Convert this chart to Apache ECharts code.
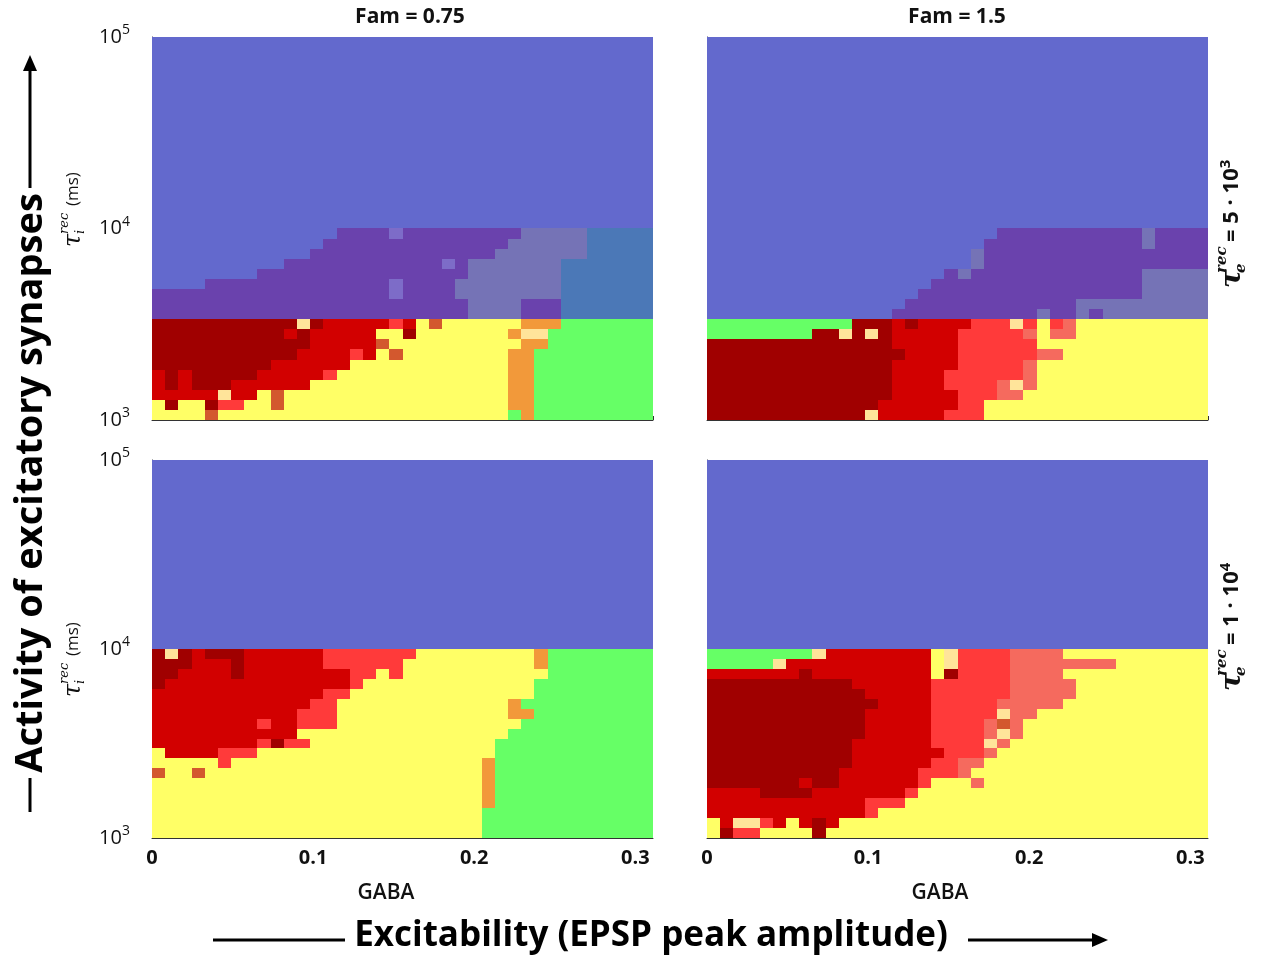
<!DOCTYPE html>
<html>
<head>
<meta charset="utf-8">
<script src="https://cdn.jsdelivr.net/npm/echarts@6/dist/echarts.min.js"></script>
<style>
  html, body { margin: 0; background: #fff; }
  #chart { width: 1261px; height: 960px; }
</style>
</head>
<body>
<div id="chart"></div>
<script>
// simulation grid: 38 GABA steps x 38 tau_i^rec steps (log spaced)
const nGaba = 38;
const gabaMax = 0.311;
const tauMin = 1e3;
const tauMax = 1e5;
const gabaTicks = [0, 0.1, 0.2, 0.3];
const tauTicks = [1e3, 1e4, 1e5];
const famTitles = ['Fam = 0.75', 'Fam = 1.5'];
const tauETitles = [['5', '3'], ['1', '4']];

// regime -> colour
const regimeColors = {
  B: '#6369cd', P: '#6a42ad', Q: '#7d6cc8', V: '#7573b6', S: '#4b78b7',
  D: '#a00000', R: '#d20000', L: '#ff3a3a', M: '#f56a5e',
  Y: '#ffff66', W: '#ffe49a', O: '#f2993a', T: '#d3582e', G: '#66ff66'
};

// rows from top (tau = 1e5) to bottom (tau = 1e3), run-length coded: <regime><count>
const cellsFam075TauE5e3 = [
  'B38', 'B38', 'B38', 'B38', 'B38', 'B38', 'B38', 'B38', 'B38', 'B38',
  'B38', 'B38', 'B38', 'B38', 'B38', 'B38', 'B38', 'B38', 'B38',
  'B14 P4 Q1 P9 V5 S5',
  'B13 P14 V6 S5',
  'B12 P14 V7 S5',
  'B10 P12 Q1 P1 V7 S7',
  'B8 P16 V7 S7',
  'B4 P14 Q1 P4 V8 S7',
  'P18 Q1 P4 V8 S7',
  'P24 V4 P3 S7',
  'P24 V4 P3 S7',
  'D11 W1 D1 R5 L1 R1 Y1 T1 Y6 O3 G7',
  'D10 R1 D1 R5 Y2 D1 Y7 O1 W2 G8',
  'D12 R5 T1 Y10 O2 G8',
  'D11 R4 L1 R1 Y1 T1 Y8 O2 G9',
  'D9 R6 Y12 O2 G9',
  'R1 D1 R1 D5 R5 L1 Y13 O2 G9',
  'R1 D1 R1 D3 R6 Y15 O2 G9',
  'R5 W1 R2 Y1 T1 Y17 O2 G9',
  'Y1 D1 Y2 D1 L2 Y2 T1 Y17 O2 G9',
  'Y4 T1 Y22 G1 O1 G9'
];

const cellsFam15TauE5e3 = [
  'B38', 'B38', 'B38', 'B38', 'B38', 'B38', 'B38', 'B38', 'B38', 'B38',
  'B38', 'B38', 'B38', 'B38', 'B38', 'B38', 'B38', 'B38', 'B38',
  'B22 P11 V1 P4',
  'B21 P12 V1 P4',
  'B20 V1 P17',
  'B20 V1 P17',
  'B18 P1 V1 P13 V5',
  'B17 P16 V5',
  'B16 P17 V5',
  'B15 P13 V10',
  'B14 P11 V1 P2 V1 P1 V8',
  'G11 D3 R1 D1 R4 L3 W1 L1 Y1 L1 M1 Y10',
  'G8 D2 W1 D1 W1 D1 R5 L5 M1 Y1 M2 Y10',
  'D14 R5 L6 Y13',
  'D15 R4 L6 M2 Y11',
  'D14 R5 L5 M1 Y13',
  'D14 R4 L6 M1 Y13',
  'D14 R4 L4 M1 W1 M1 Y13',
  'D14 R5 L3 M2 Y14',
  'D13 R6 L2 Y17',
  'D12 W1 R5 L3 Y17'
];

const cellsFam075TauE1e4 = [
  'B38', 'B38', 'B38', 'B38', 'B38', 'B38', 'B38', 'B38', 'B38', 'B38',
  'B38', 'B38', 'B38', 'B38', 'B38', 'B38', 'B38', 'B38', 'B38',
  'D1 W1 D1 R1 D3 R6 L7 Y9 O1 G8',
  'D3 R3 D1 R6 L6 Y10 O1 G8',
  'D2 R4 D1 R8 L2 Y1 L1 Y11 G8',
  'D1 R14 L1 Y13 G9',
  'R13 L2 Y14 G9',
  'R12 L2 Y13 O1 G10',
  'R11 L3 Y13 O2 G9',
  'R8 L1 R2 L3 Y14 G10',
  'R11 Y16 G11',
  'R8 L1 D1 L2 Y14 G12',
  'Y1 R4 L3 Y18 G12',
  'Y5 L1 Y19 O1 G12',
  'T1 Y2 T1 Y21 O1 G12',
  'Y25 O1 G12',
  'Y25 O1 G12',
  'Y25 O1 G12',
  'Y25 G13',
  'Y25 G13',
  'Y25 G13'
];

const cellsFam15TauE1e4 = [
  'B38', 'B38', 'B38', 'B38', 'B38', 'B38', 'B38', 'B38', 'B38', 'B38',
  'B38', 'B38', 'B38', 'B38', 'B38', 'B38', 'B38', 'B38', 'B38',
  'G8 W1 R8 Y1 W1 L4 M4 Y11',
  'G5 W1 R11 Y1 W1 L4 M8 Y7',
  'R7 D1 R9 Y1 D1 L4 M4 Y11',
  'D11 R6 L6 M5 Y10',
  'D12 R5 L6 M5 Y10',
  'D13 R4 L5 M5 Y11',
  'D12 R5 L5 W1 M2 Y13',
  'D12 R5 L4 M1 T1 M1 Y14',
  'D12 R5 L4 M1 W1 M1 Y14',
  'D11 R6 L4 W1 M1 Y15',
  'D11 R7 L3 M1 Y16',
  'D11 R6 L2 M2 Y17',
  'D10 R6 L3 M1 Y18',
  'D7 R1 D2 R6 L1 Y3 M1 Y17',
  'R4 D4 R7 L1 Y22',
  'R12 L3 Y23',
  'R12 L1 Y25',
  'Y1 R1 W2 L1 R1 Y1 R1 D1 R1 Y28',
  'Y1 D1 L2 Y4 D1 Y29'
];

const panels = [
  { rows: cellsFam075TauE5e3, left: 152, top: 37, height: 383, xLabels: false, yLabels: true },
  { rows: cellsFam15TauE5e3, left: 707, top: 37, height: 383, xLabels: false, yLabels: false },
  { rows: cellsFam075TauE1e4, left: 152, top: 460, height: 378, xLabels: true, yLabels: true },
  { rows: cellsFam15TauE1e4, left: 707, top: 460, height: 378, xLabels: true, yLabels: false }
];

// turn run-length rows into rectangles in data space
function decodeRows(rows) {
  const nTau = rows.length;
  const logMin = Math.log10(tauMin);
  const logSpan = Math.log10(tauMax) - logMin;
  const out = [];
  rows.forEach((row, k) => {
    const r = nTau - 1 - k;
    const tLo = Math.pow(10, logMin + logSpan * r / nTau);
    const tHi = Math.pow(10, logMin + logSpan * (r + 1) / nTau);
    let c = 0;
    row.split(' ').forEach(tok => {
      const n = +tok.slice(1);
      out.push({
        value: [gabaMax * c / nGaba, gabaMax * (c + n) / nGaba, tLo, tHi],
        itemStyle: { color: regimeColors[tok[0]] }
      });
      c += n;
    });
  });
  return out;
}

function renderCell(params, api) {
  const a = api.coord([api.value(0), api.value(3)]);
  const b = api.coord([api.value(1), api.value(2)]);
  // snap to whole pixels so neighbouring cells meet without seams
  const x0 = Math.round(a[0]), y0 = Math.round(a[1]);
  const x1 = Math.round(b[0]), y1 = Math.round(b[1]);
  return {
    type: 'rect',
    shape: { x: x0, y: y0, width: x1 - x0, height: y1 - y0 },
    style: { fill: api.visual('color') }
  };
}

const serif = '"DejaVu Serif", serif';
const sans = '"Open Sans", "Liberation Sans", sans-serif';

// tau_i^rec (ms) on the left of each row of panels
function tauILabel(x, y) {
  return {
    type: 'group', x: x, y: y, rotation: Math.PI / 2, silent: true,
    children: [
      { type: 'text', x: -39, y: 1, style: { text: 'τ', font: 'italic 24px ' + serif, fill: '#111', align: 'left', verticalAlign: 'middle' } },
      { type: 'text', x: -26, y: -8, style: { text: 'rec', font: 'italic 13px ' + serif, fill: '#111', align: 'left', verticalAlign: 'middle' } },
      { type: 'text', x: -26, y: 8, style: { text: 'i', font: 'italic 13px ' + serif, fill: '#111', align: 'left', verticalAlign: 'middle' } },
      { type: 'text', x: 2, y: 0, style: { text: '(ms)', font: '17px ' + sans, fill: '#111', align: 'left', verticalAlign: 'middle' } }
    ]
  };
}

// tau_e^rec = a · 10^b on the right
function tauELabel(x, y, t) {
  return {
    type: 'group', x: x, y: y, rotation: Math.PI / 2, silent: true,
    children: [
      { type: 'text', x: -66, y: 1, style: { text: 'τ', font: 'bold italic 28px ' + serif, fill: '#111', align: 'left', verticalAlign: 'middle' } },
      { type: 'text', x: -51, y: -10, style: { text: 'rec', font: 'bold italic 15px ' + serif, fill: '#111', align: 'left', verticalAlign: 'middle' } },
      { type: 'text', x: -51, y: 9, style: { text: 'e', font: 'bold italic 15px ' + serif, fill: '#111', align: 'left', verticalAlign: 'middle' } },
      {
        type: 'text', x: -20, y: 0,
        style: {
          text: '{b|= ' + t[0] + ' · 10}{s|' + t[1] + '}',
          align: 'left', verticalAlign: 'middle',
          rich: {
            b: { font: 'bold 22px ' + sans, fill: '#111' },
            s: { font: 'bold 15px ' + sans, fill: '#111', padding: [0, 0, 12, 0] }
          }
        }
      }
    ]
  };
}

const chart = echarts.init(document.getElementById('chart'));

const option = {
  backgroundColor: '#fff',
  animation: false,
  grid: panels.map(p => ({ left: p.left, top: p.top, width: 501, height: p.height })),
  xAxis: panels.map((p, i) => ({
    type: 'value', gridIndex: i, min: 0, max: gabaMax, interval: 0.1,
    axisLine: { show: true, lineStyle: { color: '#333', width: 1 } },
    axisTick: { show: true, inside: true, length: 4, lineStyle: { color: '#333' } },
    splitLine: { show: false },
    axisLabel: {
      show: p.xLabels, margin: 10, color: '#111',
      fontFamily: sans, fontWeight: 'bold', fontSize: 20,
      showMaxLabel: false,
      formatter: v => gabaTicks.indexOf(+v.toFixed(3)) < 0 ? '' : (v === 0 ? '0' : v.toFixed(1))
    }
  })),
  yAxis: panels.map((p, i) => ({
    type: 'log', gridIndex: i, logBase: 10, min: tauMin, max: tauMax,
    axisLine: { show: true, lineStyle: { color: '#333', width: 1 } },
    axisTick: { show: true, inside: true, length: 4, lineStyle: { color: '#333' } },
    splitLine: { show: false },
    minorTick: { show: false },
    axisLabel: {
      show: p.yLabels, margin: 22,
      formatter: v => tauTicks.indexOf(v) < 0 ? '' : '{b|10}{e|' + Math.round(Math.log10(v)) + '}',
      rich: {
        b: { fontFamily: sans, fontSize: 20, color: '#111' },
        e: { fontFamily: sans, fontSize: 14, color: '#111', padding: [0, 0, 13, 0] }
      }
    }
  })),
  series: panels.map((p, i) => ({
    type: 'custom', xAxisIndex: i, yAxisIndex: i,
    clip: true, silent: true,
    encode: { x: [0, 1], y: [2, 3] },
    renderItem: renderCell,
    data: decodeRows(p.rows)
  })),
  graphic: [
    { type: 'text', x: 410, y: 17, silent: true, style: { text: famTitles[0], font: 'bold 21px ' + sans, fill: '#111', align: 'center', verticalAlign: 'middle' } },
    { type: 'text', x: 957, y: 17, silent: true, style: { text: famTitles[1], font: 'bold 21px ' + sans, fill: '#111', align: 'center', verticalAlign: 'middle' } },
    { type: 'text', x: 386, y: 893, silent: true, style: { text: 'GABA', font: '600 21px ' + sans, fill: '#111', align: 'center', verticalAlign: 'middle' } },
    { type: 'text', x: 940, y: 893, silent: true, style: { text: 'GABA', font: '600 21px ' + sans, fill: '#111', align: 'center', verticalAlign: 'middle' } },
    tauILabel(73, 208),
    tauILabel(73, 658),
    tauELabel(1232, 222, tauETitles[0]),
    tauELabel(1232, 625, tauETitles[1]),
    // bottom axis title with arrow
    { type: 'line', silent: true, shape: { x1: 213, y1: 940, x2: 345, y2: 940 }, style: { stroke: '#000', lineWidth: 3 } },
    { type: 'text', x: 651, y: 936, silent: true, style: { text: 'Excitability (EPSP peak amplitude)', font: 'bold 35px ' + sans, fill: '#000', align: 'center', verticalAlign: 'middle' } },
    { type: 'line', silent: true, shape: { x1: 968, y1: 940, x2: 1095, y2: 940 }, style: { stroke: '#000', lineWidth: 3 } },
    { type: 'polygon', silent: true, shape: { points: [[1092, 933], [1108, 940], [1092, 947]] }, style: { fill: '#000' } },
    // left axis title with arrow
    { type: 'line', silent: true, shape: { x1: 30, y1: 812, x2: 30, y2: 778 }, style: { stroke: '#000', lineWidth: 3 } },
    {
      type: 'text', x: 31, y: 483, rotation: Math.PI / 2, silent: true,
      style: { text: 'Activity of excitatory synapses', font: 'bold 38px ' + sans, fill: '#000', align: 'center', verticalAlign: 'middle' }
    },
    { type: 'line', silent: true, shape: { x1: 30, y1: 188, x2: 30, y2: 70 }, style: { stroke: '#000', lineWidth: 3 } },
    { type: 'polygon', silent: true, shape: { points: [[23, 71], [30, 55], [37, 71]] }, style: { fill: '#000' } }
  ]
};

chart.setOption(option);
</script>
</body>
</html>
